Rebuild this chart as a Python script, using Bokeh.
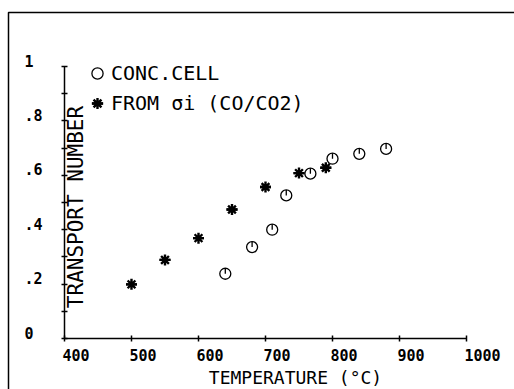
from math import pi
from bokeh.plotting import figure
from bokeh.models import (Range1d, LinearAxis, FixedTicker, ColumnDataSource, LabelSet,
                          Label, Legend, LegendItem, BoxAnnotation)
from bokeh.core.properties import value
from bokeh.embed import file_html
from bokeh.resources import INLINE

# ---- data ----
conc_temp = [640, 680, 710, 731, 767, 800, 840, 880]
conc_t = [0.238, 0.336, 0.400, 0.526, 0.606, 0.661, 0.679, 0.697]

sigma_temp = [500, 550, 600, 650, 700, 750, 790]
sigma_t = [0.199, 0.289, 0.369, 0.474, 0.557, 0.608, 0.628]

x_ticks = [400, 500, 600, 700, 800, 900, 1000]
x_tick_labels = ["400", "500", "600", "700", "800", "900", "1000"]
y_ticks = [0.0, 0.2, 0.4, 0.6, 0.8, 1.0]
y_tick_labels = ["0", ".2", ".4", ".6", ".8", "1"]
y_minor = [0.1, 0.3, 0.5, 0.7, 0.9]

FONT = "DejaVu Sans Mono"
W, H = 514, 389

p = figure(width=W, height=H, output_backend="svg", toolbar_location=None,
           x_range=Range1d(304.48, 1071.64), y_range=Range1d(-0.1875, 1.24265),
           x_axis_location=None, y_axis_location=None, min_border=0,
           background_fill_color="white", border_fill_color="white")
p.outline_line_color = None
p.grid.visible = False

# axes at fixed locations
xa = LinearAxis(fixed_location=0, bounds=(400, 1000),
                ticker=FixedTicker(ticks=x_ticks, minor_ticks=[]))
xa.axis_line_color = "black"
xa.axis_line_width = 1.5
xa.major_tick_in = 3
xa.major_tick_out = 3
xa.major_tick_line_width = 1.5
xa.minor_tick_line_color = None
xa.major_label_text_color = None
xa.major_label_text_font_size = "1px"
p.add_layout(xa, "below")

ya = LinearAxis(fixed_location=400, bounds=(0, 1),
                ticker=FixedTicker(ticks=y_ticks, minor_ticks=y_minor))
ya.axis_line_color = "black"
ya.axis_line_width = 1.5
ya.major_tick_in = 3
ya.major_tick_out = 3
ya.minor_tick_in = 3
ya.minor_tick_out = 3
ya.major_tick_line_width = 1.5
ya.minor_tick_line_width = 1.5
ya.minor_tick_line_color = "black"
ya.major_label_text_color = None
ya.major_label_text_font_size = "1px"
p.add_layout(ya, "left")

# tick labels
xs = ColumnDataSource(dict(x=x_ticks, y=[0] * len(x_ticks), t=x_tick_labels))
p.add_layout(LabelSet(x="x", y="y", text="t", source=xs, x_offset=-2, y_offset=-22,
                      text_align="left", text_baseline="alphabetic",
                      text_font=value(FONT), text_font_style="bold",
                      text_font_size="15px", text_color="black"))
ys = ColumnDataSource(dict(x=[400] * len(y_ticks), y=y_ticks, t=y_tick_labels))
p.add_layout(LabelSet(x="x", y="y", text="t", source=ys, x_offset=-40, y_offset=0,
                      text_align="left", text_baseline="alphabetic",
                      text_font=value(FONT), text_font_style="bold",
                      text_font_size="15px", text_color="black"))

# axis titles
p.add_layout(Label(x=295, y=H - 377, x_units="screen", y_units="screen",
                   text="TEMPERATURE (°C)", text_align="center", text_baseline="middle",
                   text_font=FONT, text_font_size="18px", text_color="black"))
p.add_layout(Label(x=75, y=H - 206.5, x_units="screen", y_units="screen", angle=pi / 2,
                   text="TRANSPORT NUMBER", text_align="center", text_baseline="middle",
                   text_font=FONT, text_font_size="21px", text_color="black"))

# page frame lines (left and top)
p.add_layout(BoxAnnotation(left=8, right=W + 200, top=H - 12, bottom=-200,
                           left_units="screen", right_units="screen",
                           top_units="screen", bottom_units="screen",
                           fill_color=None, fill_alpha=0,
                           line_color="black", line_alpha=1.0, line_width=1.5))

# data
circ = p.scatter(conc_temp, conc_t, marker="circle", size=11, fill_color=None,
                 line_color="black", line_width=1.3)
p.ray(conc_temp, conc_t, length=5.5, length_units="screen", angle=pi / 2,
      line_color="black", line_width=1.3)
ast = p.scatter(sigma_temp, sigma_t, marker="asterisk", size=11,
                line_color="black", line_width=2.4)
dsh = p.scatter(sigma_temp, sigma_t, marker="dash", size=11,
                line_color="black", line_width=2.4)

legend = Legend(items=[LegendItem(label="CONC.CELL", renderers=[circ]),
                       LegendItem(label="FROM σi (CO/CO2)", renderers=[ast, dsh])],
                location=(83, 272), glyph_width=28, glyph_height=28, label_height=28,
                spacing=2, padding=0, margin=0, label_standoff=0,
                border_line_color=None, background_fill_alpha=0,
                label_text_font=FONT, label_text_font_size="20px",
                label_text_color="black")
p.add_layout(legend)

open("out.html", "w").write(file_html(p, INLINE))
